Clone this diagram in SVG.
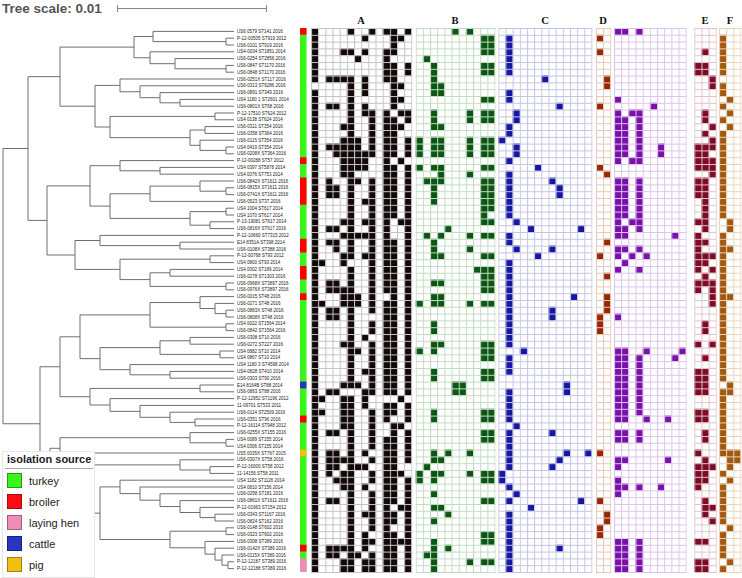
<svg xmlns="http://www.w3.org/2000/svg" width="742" height="578" viewBox="0 0 742 578">
<style>
.lbl{font-family:"Liberation Sans",Arial,sans-serif;font-size:4.5px;fill:#222}
.hd{font-family:"Liberation Serif","Times New Roman",serif;font-size:10.5px;font-weight:bold;fill:#111;text-anchor:middle}
.lg{font-family:"Liberation Sans",Arial,sans-serif;font-size:11px;fill:#222}
.tr{fill:none;stroke:#6e6e6e;stroke-width:1}
.cells{fill:none;stroke-width:1;stroke-linecap:butt}
</style>
<defs>
<pattern id="gA" patternUnits="userSpaceOnUse" x="311" y="28" width="7.17" height="6.8"><rect width="7.17" height="1" fill="#c4c4c4"/><rect width="1" height="6.8" fill="#c4c4c4"/></pattern>
<pattern id="gB" patternUnits="userSpaceOnUse" x="415.7" y="28" width="7.17" height="6.8"><rect width="7.17" height="1" fill="#c2dcc2"/><rect width="1" height="6.8" fill="#c2dcc2"/></pattern>
<pattern id="gC" patternUnits="userSpaceOnUse" x="498.3" y="28" width="7.17" height="6.8"><rect width="7.17" height="1" fill="#c4c4e6"/><rect width="1" height="6.8" fill="#c4c4e6"/></pattern>
<pattern id="gD" patternUnits="userSpaceOnUse" x="596" y="28" width="7.17" height="6.8"><rect width="7.17" height="1" fill="#e6c8b8"/><rect width="1" height="6.8" fill="#e6c8b8"/></pattern>
<pattern id="gP" patternUnits="userSpaceOnUse" x="614" y="28" width="7.17" height="6.8"><rect width="7.17" height="1" fill="#dcc4ec"/><rect width="1" height="6.8" fill="#dcc4ec"/></pattern>
<pattern id="gE" patternUnits="userSpaceOnUse" x="694.3" y="28" width="7.17" height="6.8"><rect width="7.17" height="1" fill="#e0c4cc"/><rect width="1" height="6.8" fill="#e0c4cc"/></pattern>
<pattern id="gF" patternUnits="userSpaceOnUse" x="719" y="28" width="7.17" height="6.8"><rect width="7.17" height="1" fill="#e6d4bc"/><rect width="1" height="6.8" fill="#e6d4bc"/></pattern>
</defs>
<rect width="742" height="578" fill="#fff"/>

<g id="scale">
<text x="2" y="12.5" font-family="Liberation Sans,Arial,sans-serif" font-size="13.5" font-weight="bold" fill="#555">Tree scale: 0.01</text>
<path d="M117.5 8.5H266.5M117.5 5V12M266.5 5V12" stroke="#888" stroke-width="1" fill="none"/>
</g>

<g id="tree" class="tr">
<path d="M3 148.5V423.75M3 148.5H28M3 423.75H40
M28 76.65V220.4M28 76.65H60M28 220.4H47
M60 47.1V106.2M60 47.1H134M60 106.2H95
M134 36.5V57.75M134 36.5H153M134 57.75H150
M153 31.4V41.6M153 31.4H234M153 41.6H226
M226 38.2V45M226 38.2H234M226 45H234
M150 51.8V63.7M150 51.8H234M150 63.7H175
M175 58.6V68.8M175 58.6H234M175 68.8H226
M226 65.4V72.2M226 65.4H234M226 72.2H234
M95 85.4V127M95 85.4H120M95 127H110
M120 79V91.75M120 79H234M120 91.75H140
M140 85.8V97.7M140 85.8H234M140 97.7H160
M160 92.6V102.8M160 92.6H234M160 102.8H180
M180 99.4V106.2M180 99.4H234M180 106.2H234
M110 116.4V137.65M110 116.4H215M110 137.65H190
M215 113V119.8M215 113H234M215 119.8H234
M190 130V145.3M190 130H205M190 145.3H200
M205 126.6V133.4M205 126.6H234M205 133.4H234
M200 140.2V150.4M200 140.2H234M200 150.4H226
M226 147V153.8M226 147H234M226 153.8H234"/>
<path d="M47 185.9V255M47 185.9H90M47 255H75
M90 165.7V206.1M90 165.7H120M90 206.1H110
M120 160.6V170.8M120 160.6H234M120 170.8H160
M160 167.4V174.2M160 167.4H234M160 174.2H234
M110 193.75V218.4M110 193.75H150M110 218.4H190
M150 186.1V201.4M150 186.1H200M150 201.4H234
M200 181V191.2M200 181H234M200 191.2H226
M226 187.8V194.6M226 187.8H234M226 194.6H234
M190 211.6V225.2M190 211.6H226M190 225.2H210
M226 208.2V215M226 208.2H234M226 215H234
M210 221.8V228.6M210 221.8H234M210 228.6H234
M75 240.5V269.4M75 240.5H100M75 269.4H120
M100 235.4V245.6M100 235.4H234M100 245.6H180
M180 242.2V249M180 242.2H234M180 249H234
M120 259.2V279.6M120 259.2H210M120 279.6H150
M210 255.8V262.6M210 255.8H234M210 262.6H234
M150 272.8V286.4M150 272.8H170M150 286.4H226
M170 269.4V276.2M170 269.4H234M170 276.2H234
M226 283V289.8M226 283H234M226 289.8H234"/>
<path d="M40 366.75V480.75M40 366.75H60M40 480.75H50
M60 336.8V396.7M60 336.8H80M60 396.7H90
M80 314.9V358.65M80 314.9H150M80 358.65H100
M150 302.55V327.2M150 302.55H200M150 327.2H226
M200 296.6V308.5M200 296.6H234M200 308.5H215
M215 303.4V313.6M215 303.4H234M215 313.6H226
M226 310.2V317M226 310.2H234M226 317H234
M226 323.8V330.6M226 323.8H234M226 330.6H234
M100 347.6V369.7M100 347.6H160M100 369.7H130
M160 340.8V354.4M160 340.8H190M160 354.4H220
M190 337.4V344.2M190 337.4H234M190 344.2H234
M220 351V357.8M220 351H234M220 357.8H234
M130 364.6V374.8M130 364.6H234M130 374.8H170
M170 371.4V378.2M170 371.4H234M170 378.2H234
M90 388.4V405M90 388.4H200M90 405H110
M200 385V391.8M200 385H234M200 391.8H234
M110 398.6V411.35M110 398.6H234M110 411.35H140
M140 405.4V417.3M140 405.4H234M140 417.3H170
M170 412.2V422.4M170 412.2H234M170 422.4H195
M195 419V425.8M195 419H234M195 425.8H234"/>
<path d="M50 448.3V513.2M50 448.3H60M50 513.2H100
M60 437.7V458.95M60 437.7H190M60 458.95H70
M190 432.6V442.8M190 432.6H234M190 442.8H226
M226 439.4V446.2M226 439.4H234M226 446.2H234
M70 453V464.9M70 453H234M70 464.9H180
M180 459.8V470M180 459.8H234M180 470H210
M210 466.6V473.4M210 466.6H234M210 473.4H234
M100 486.9V539.5M100 486.9H120M100 539.5H170
M120 480.2V493.6M120 480.2H234M120 493.6H140
M140 487V500.2M140 487H234M140 500.2H160
M160 493.8V506.55M160 493.8H234M160 506.55H180
M180 500.6V512.5M180 500.6H234M180 512.5H200
M200 507.4V517.6M200 507.4H234M200 517.6H215
M215 514.2V521M215 514.2H234M215 521H234
M170 531.2V547.8M170 531.2H226M170 547.8H205
M226 527.8V534.6M226 527.8H234M226 534.6H234
M205 541.4V554.15M205 541.4H234M205 554.15H215
M215 548.2V560.1M215 548.2H234M215 560.1H222
M222 555V565.2M222 555H234M222 565.2H228
M228 561.8V568.6M228 561.8H234M228 568.6H234"/>
</g>

<g id="labels" class="lbl">
<text x="237" y="33">US6 0579 ST141 2016</text>
<text x="237" y="39.8">P-12-00505 ST919 2012</text>
<text x="237" y="46.6">US6-0101 ST919 2016</text>
<text x="237" y="53.4">US4-0034 ST1851 2014</text>
<text x="237" y="60.2">US6-0254 ST2856 2016</text>
<text x="237" y="67">US6-0847 ST1170 2016</text>
<text x="237" y="73.8">US6-0848 ST1170 2016</text>
<text x="237" y="80.6">US6-0251X ST117 2016</text>
<text x="237" y="87.4">US6-0313 ST6286 2016</text>
<text x="237" y="94.2">US6-0891 ST349 2016</text>
<text x="237" y="101">US4 1180 1 ST2601 2014</text>
<text x="237" y="107.8">US6-0801X ST68 2016</text>
<text x="237" y="114.6">P-12-17510 ST624 2012</text>
<text x="237" y="121.4">US4 0138 ST624 2014</text>
<text x="237" y="128.2">US6-0311 ST354 2016</text>
<text x="237" y="135">US6-0358 ST364 2016</text>
<text x="237" y="141.8">US6-0115 ST354 2016</text>
<text x="237" y="148.6">US4 0419 ST354 2014</text>
<text x="237" y="155.4">US6-0208X ST364 2016</text>
<text x="237" y="162.2">P-12-00288 ST57 2012</text>
<text x="237" y="169">US4 0397 ST5878 2014</text>
<text x="237" y="175.8">US4 0076 ST753 2014</text>
<text x="237" y="182.6">US6-0842X ST1611 2016</text>
<text x="237" y="189.4">US6-0815X ST1611 2016</text>
<text x="237" y="196.2">US6-0741X ST1611 2016</text>
<text x="237" y="203">US6-0523 ST37 2016</text>
<text x="237" y="209.8">US4 1004 ST617 2014</text>
<text x="237" y="216.6">US4 1070 ST617 2014</text>
<text x="237" y="223.4">P-13-19081 ST617 2014</text>
<text x="237" y="230.2">US6-0816X ST617 2016</text>
<text x="237" y="237">P-12-10660 ST7315 2012</text>
<text x="237" y="243.8">E14 8351A ST398 2014</text>
<text x="237" y="250.6">US6-0108X ST388 2016</text>
<text x="237" y="257.4">P-12-00768 ST93 2012</text>
<text x="237" y="264.2">US4 0800 ST93 2014</text>
<text x="237" y="271">US4 0002 ST189 2014</text>
<text x="237" y="277.8">US6-0278 ST1303 2016</text>
<text x="237" y="284.6">US6-0968X ST3897 2016</text>
<text x="237" y="291.4">US6-0976X ST3897 2016</text>
<text x="237" y="298.2">US6-0015 ST48 2016</text>
<text x="237" y="305">US6-0271 ST48 2016</text>
<text x="237" y="311.8">US6-0883X ST48 2016</text>
<text x="237" y="318.6">US6-0808X ST48 2016</text>
<text x="237" y="325.4">US4 0022 ST1564 2014</text>
<text x="237" y="332.2">US6-0842 ST1564 2016</text>
<text x="237" y="339">US6-0308 ST10 2016</text>
<text x="237" y="345.8">US6-0272 ST227 2016</text>
<text x="237" y="352.6">US4 0882 ST10 2014</text>
<text x="237" y="359.4">US4 0867 ST10 2014</text>
<text x="237" y="366.2">US4 1180 3 ST4598 2014</text>
<text x="237" y="373">US4-0828 ST410 2014</text>
<text x="237" y="379.8">US6-0303 ST90 2016</text>
<text x="237" y="386.6">E14 8164B ST88 2014</text>
<text x="237" y="393.4">US6-0863 ST88 2016</text>
<text x="237" y="400.2">P-12-12952 ST1196 2012</text>
<text x="237" y="407">11-09701 ST533 2011</text>
<text x="237" y="413.8">US6-0114 ST2509 2016</text>
<text x="237" y="420.6">US6-0351 ST96 2016</text>
<text x="237" y="427.4">P-12-16114 ST948 2012</text>
<text x="237" y="434.2">US6-0255X ST155 2016</text>
<text x="237" y="441">US4 0089 ST155 2014</text>
<text x="237" y="447.8">US4 0306 ST155 2014</text>
<text x="237" y="454.6">US5 0035X ST767 2015</text>
<text x="237" y="461.4">US6-0307X ST58 2016</text>
<text x="237" y="468.2">P-12-16000 ST58 2012</text>
<text x="237" y="475">11-14156 ST58 2011</text>
<text x="237" y="481.8">US4 1182 ST1126 2014</text>
<text x="237" y="488.6">US4 0810 ST156 2014</text>
<text x="237" y="495.4">US6-0258 ST181 2016</text>
<text x="237" y="502.2">US6-0861X ST1611 2016</text>
<text x="237" y="509">P-12-01963 ST154 2012</text>
<text x="237" y="515.8">US6-0343 ST1167 2016</text>
<text x="237" y="522.6">US6-0824 ST162 2016</text>
<text x="237" y="529.4">US6-0148 ST602 2016</text>
<text x="237" y="536.2">US6-0323 ST602 2016</text>
<text x="237" y="543">US6-0308 ST389 2016</text>
<text x="237" y="549.8">US6-0142X ST389 2016</text>
<text x="237" y="556.6">US6-0115X ST389 2016</text>
<text x="237" y="563.4">P-12-12187 ST389 2016</text>
<text x="237" y="570.2">P-12-12188 ST389 2016</text>
</g>

<g id="source-strip">
<rect x="300" y="28" width="6.5" height="544" fill="#3af51a"/>
<path transform="translate(300,28) scale(6.5,6.8)" fill="none" stroke-width="1" stroke="#ff0000" d="M.5 0v1M.5 19v1M.5 22v4M.5 31v2M.5 35v2M.5 39v1M.5 57v1M.5 76v1"/>
<path transform="translate(300,28) scale(6.5,6.8)" fill="none" stroke-width="1" stroke="#2a35c0" d="M.5 52v1"/>
<path transform="translate(300,28) scale(6.5,6.8)" fill="none" stroke-width="1" stroke="#f2c010" d="M.5 62v1"/>
<path transform="translate(300,28) scale(6.5,6.8)" fill="none" stroke-width="1" stroke="#f08cb8" d="M.5 78v2"/>
</g>

<g id="headers" class="hd">
<text x="361" y="24">A</text>
<text x="455" y="24">B</text>
<text x="545" y="24">C</text>
<text x="603" y="24">D</text>
<text x="705" y="24">E</text>
<text x="730" y="24">F</text>
</g>

<g id="block-A">
<rect x="311" y="28" width="100.4" height="544" fill="#fff"/>
<path class="cells" stroke="#130808" transform="translate(311,28) scale(7.17,6.8)" d="M.5 0v8M.5 9v71M1.5 34v1M1.5 40v1M1.5 54v1M1.5 56v1M2.5 7v1M2.5 11v1M2.5 17v1M2.5 22v3M2.5 29v1M2.5 31v1M2.5 37v2M2.5 41v2M2.5 53v1M2.5 59v1M2.5 62v4M2.5 69v1M2.5 76v2M3.5 7v1M3.5 11v1M3.5 17v2M3.5 23v2M3.5 29v1M3.5 31v2M3.5 37v2M3.5 41v2M3.5 53v1M3.5 59v1M3.5 62v3M3.5 66v1M3.5 69v1M3.5 76v2M4.5 3v1M4.5 7v1M4.5 14v1M4.5 16v6M4.5 28v1M4.5 30v1M4.5 33v2M4.5 38v3M4.5 46v1M4.5 52v1M4.5 54v5M4.5 63v1M4.5 65v3M4.5 76v1M4.5 78v2M5.5 0v1M5.5 3v1M5.5 7v27M5.5 35v18M5.5 54v26M6.5 4v1M6.5 16v5M6.5 22v1M6.5 30v1M6.5 39v2M6.5 47v1M6.5 52v1M6.5 64v1M6.5 77v1M7.5 1v1M7.5 3v1M7.5 7v3M7.5 11v2M7.5 18v3M7.5 25v1M7.5 28v1M7.5 30v1M7.5 33v1M7.5 45v1M7.5 50v1M7.5 53v3M7.5 62v1M7.5 64v1M7.5 67v1M7.5 71v1M7.5 74v3M7.5 78v2M8.5 0v1M8.5 12v7M8.5 22v20M8.5 43v2M8.5 46v8M8.5 56v6M8.5 63v1M8.5 65v2M8.5 68v6M8.5 75v1M8.5 77v3M10.5 0v1M10.5 3v5M10.5 12v27M10.5 40v14M10.5 55v3M10.5 60v20M11.5 0v4M11.5 5v7M11.5 13v6M11.5 20v8M11.5 31v23M11.5 55v2M11.5 58v12M11.5 71v2M11.5 74v6M12.5 1v1M12.5 8v1M12.5 10v1M12.5 12v1M12.5 14v1M12.5 19v1M12.5 28v1M12.5 54v1M12.5 58v1M12.5 65v1M12.5 70v1M12.5 75v1M13.5 0v1M13.5 5v2M13.5 12v2M13.5 16v3M13.5 20v34M13.5 55v3M13.5 59v5M13.5 66v14"/>
<rect x="311" y="28" width="101.4" height="545" fill="url(#gA)"/>
</g>

<g id="block-B">
<rect x="415.7" y="28" width="78.9" height="544" fill="#fff"/>
<path class="cells" stroke="#0c5514" transform="translate(415.7,28) scale(7.17,6.8)" d="M.5 16v3M.5 20v1M.5 40v1M.5 47v1M.5 65v2M1.5 4v1M1.5 22v1M1.5 30v1M1.5 64v1M1.5 77v1M2.5 5v5M2.5 12v3M2.5 16v3M2.5 20v1M2.5 22v4M2.5 31v3M2.5 37v1M2.5 39v2M2.5 43v2M2.5 46v2M2.5 50v2M2.5 56v2M2.5 62v2M2.5 65v2M2.5 68v1M2.5 70v1M2.5 72v1M2.5 75v5M3.5 8v2M3.5 14v1M3.5 16v3M3.5 20v3M3.5 30v1M3.5 33v1M3.5 37v1M3.5 39v2M3.5 46v1M3.5 63v1M3.5 65v1M3.5 70v1M4.5 29v1M4.5 62v1M4.5 71v1M4.5 76v1M5.5 0v1M5.5 52v2M6.5 52v2M7.5 0v1M7.5 12v2M7.5 16v3M7.5 21v1M7.5 30v1M7.5 32v1M7.5 40v1M7.5 62v1M7.5 65v1M7.5 78v1M8.5 35v1M9.5 1v3M9.5 5v2M9.5 10v1M9.5 12v2M9.5 16v3M9.5 20v1M9.5 22v7M9.5 30v1M9.5 33v1M9.5 35v4M9.5 40v1M9.5 46v3M9.5 50v2M9.5 56v2M9.5 59v2M9.5 65v2M9.5 69v1M9.5 74v2M9.5 78v1M10.5 1v3M10.5 5v2M10.5 10v1M10.5 12v2M10.5 16v3M10.5 20v1M10.5 22v5M10.5 28v1M10.5 30v1M10.5 33v1M10.5 35v4M10.5 40v1M10.5 46v3M10.5 50v2M10.5 56v2M10.5 59v2M10.5 65v2M10.5 69v1M10.5 74v2M10.5 78v1"/>
<rect x="415.7" y="28" width="79.9" height="545" fill="url(#gB)"/>
</g>

<g id="block-C">
<rect x="498.3" y="28" width="93.2" height="544" fill="#fff"/>
<path class="cells" stroke="#1616a2" transform="translate(498.3,28) scale(7.17,6.8)" d="M.5 16v1M.5 65v2M1.5 1v6M1.5 9v2M1.5 14v2M1.5 19v1M1.5 21v7M1.5 30v2M1.5 34v13M1.5 48v3M1.5 53v5M1.5 59v6M1.5 67v1M1.5 69v1M1.5 71v9M2.5 12v2M2.5 17v2M2.5 28v1M2.5 32v1M2.5 58v1M2.5 68v1M3.5 47v1M4.5 29v1M4.5 70v1M5.5 20v1M5.5 33v1M6.5 7v1M7.5 22v1M7.5 32v1M7.5 41v2M7.5 59v1M7.5 64v1M8.5 11v1M8.5 23v2M8.5 63v1M8.5 76v1M9.5 52v2M9.5 62v1M10.5 39v1M11.5 29v1M11.5 69v1M12.5 62v1"/>
<rect x="498.3" y="28" width="94.2" height="545" fill="url(#gC)"/>
</g>

<g id="block-D">
<rect x="596" y="28" width="14.3" height="544" fill="#fff"/>
<path class="cells" stroke="#962808" transform="translate(596,28) scale(7.17,6.8)" d="M.5 1v1M.5 3v1M.5 11v1M.5 20v1M.5 33v1M.5 42v3M.5 62v1M.5 69v1M.5 73v2M1.5 7v2M1.5 21v1M1.5 31v1M1.5 36v1M1.5 39v3M1.5 71v2"/>
<rect x="596" y="28" width="15.3" height="545" fill="url(#gD)"/>
</g>

<g id="block-P">
<rect x="614" y="28" width="71.7" height="544" fill="#fff"/>
<path class="cells" stroke="#7a10aa" transform="translate(614,28) scale(7.17,6.8)" d="M.5 0v1M.5 10v1M.5 12v8M.5 22v9M.5 32v2M.5 35v1M.5 42v1M.5 47v11M.5 59v2M.5 63v2M.5 66v3M.5 75v5M1.5 0v1M1.5 13v6M1.5 22v6M1.5 29v2M1.5 32v1M1.5 34v1M1.5 47v11M1.5 59v2M1.5 63v1M1.5 67v1M1.5 75v5M2.5 12v1M2.5 19v1M2.5 28v1M2.5 33v1M3.5 0v1M3.5 12v8M3.5 22v8M3.5 32v1M3.5 35v1M3.5 48v9M3.5 59v2M3.5 67v1M3.5 75v5M4.5 33v1M4.5 47v1M4.5 57v1M5.5 11v1M6.5 17v2M6.5 67v1M7.5 57v1M7.5 63v1M8.5 30v1M8.5 48v1M9.5 47v1"/>
<rect x="614" y="28" width="72.7" height="545" fill="url(#gP)"/>
</g>

<g id="block-E">
<rect x="694.3" y="28" width="21.5" height="544" fill="#fff"/>
<path class="cells" stroke="#7e0a26" transform="translate(694.3,28) scale(7.17,6.8)" d="M.5 5v2M.5 17v4M.5 22v3M.5 28v1M.5 30v6M.5 37v2M.5 46v1M.5 50v4M.5 56v2M.5 62v1M.5 64v4M.5 75v1M.5 78v2M1.5 3v1M1.5 5v2M1.5 12v2M1.5 15v1M1.5 17v4M1.5 22v8M1.5 31v1M1.5 33v2M1.5 36v2M1.5 43v2M1.5 48v1M1.5 50v4M1.5 56v2M1.5 59v2M1.5 63v4M1.5 69v3M1.5 75v1M1.5 78v2M2.5 7v2M2.5 14v1M2.5 16v2M2.5 19v3M2.5 33v1M2.5 35v1M2.5 37v4M2.5 46v1M2.5 64v1M2.5 70v1M2.5 72v1"/>
<rect x="694.3" y="28" width="22.5" height="545" fill="url(#gE)"/>
</g>

<g id="block-F">
<rect x="719" y="28" width="21.5" height="544" fill="#fff"/>
<path class="cells" stroke="#a2580e" transform="translate(719,28) scale(7.17,6.8)" d="M.5 1v6M.5 8v2M.5 11v1M.5 13v1M.5 15v13M.5 30v22M.5 53v10M.5 65v1M.5 67v6M.5 74v4M.5 79v1M1.5 10v1M1.5 12v1M1.5 14v1M1.5 28v2M1.5 32v1M1.5 39v1M1.5 52v2M1.5 62v3M1.5 66v1M1.5 73v1M1.5 78v1M2.5 62v2"/>
<rect x="719" y="28" width="22.5" height="545" fill="url(#gF)"/>
</g>

<g id="legend">
<rect x="2.5" y="451.5" width="92" height="126" fill="#fff" stroke="#e6e6e6"/>
<text x="7" y="463" font-family="Liberation Sans,Arial,sans-serif" font-size="11" font-weight="bold" fill="#222">isolation source</text>
<line x1="5" y1="468.5" x2="93" y2="468.5" stroke="#aaa"/>
<rect x="7.5" y="473.5" width="14" height="14" fill="#3af51a" stroke="#2a9a1a"/>
<rect x="7.5" y="494.5" width="14" height="14" fill="#ff0a14" stroke="#a01010"/>
<rect x="7.5" y="515.5" width="14" height="14" fill="#f08cb8" stroke="#a06080"/>
<rect x="7.5" y="536.5" width="14" height="14" fill="#2a35c0" stroke="#1a2080"/>
<rect x="7.5" y="557.5" width="14" height="14" fill="#f2c010" stroke="#a08010"/>
<text class="lg" x="29" y="485">turkey</text>
<text class="lg" x="29" y="506">broiler</text>
<text class="lg" x="29" y="527">laying hen</text>
<text class="lg" x="29" y="548">cattle</text>
<text class="lg" x="29" y="569">pig</text>
</g>
</svg>
